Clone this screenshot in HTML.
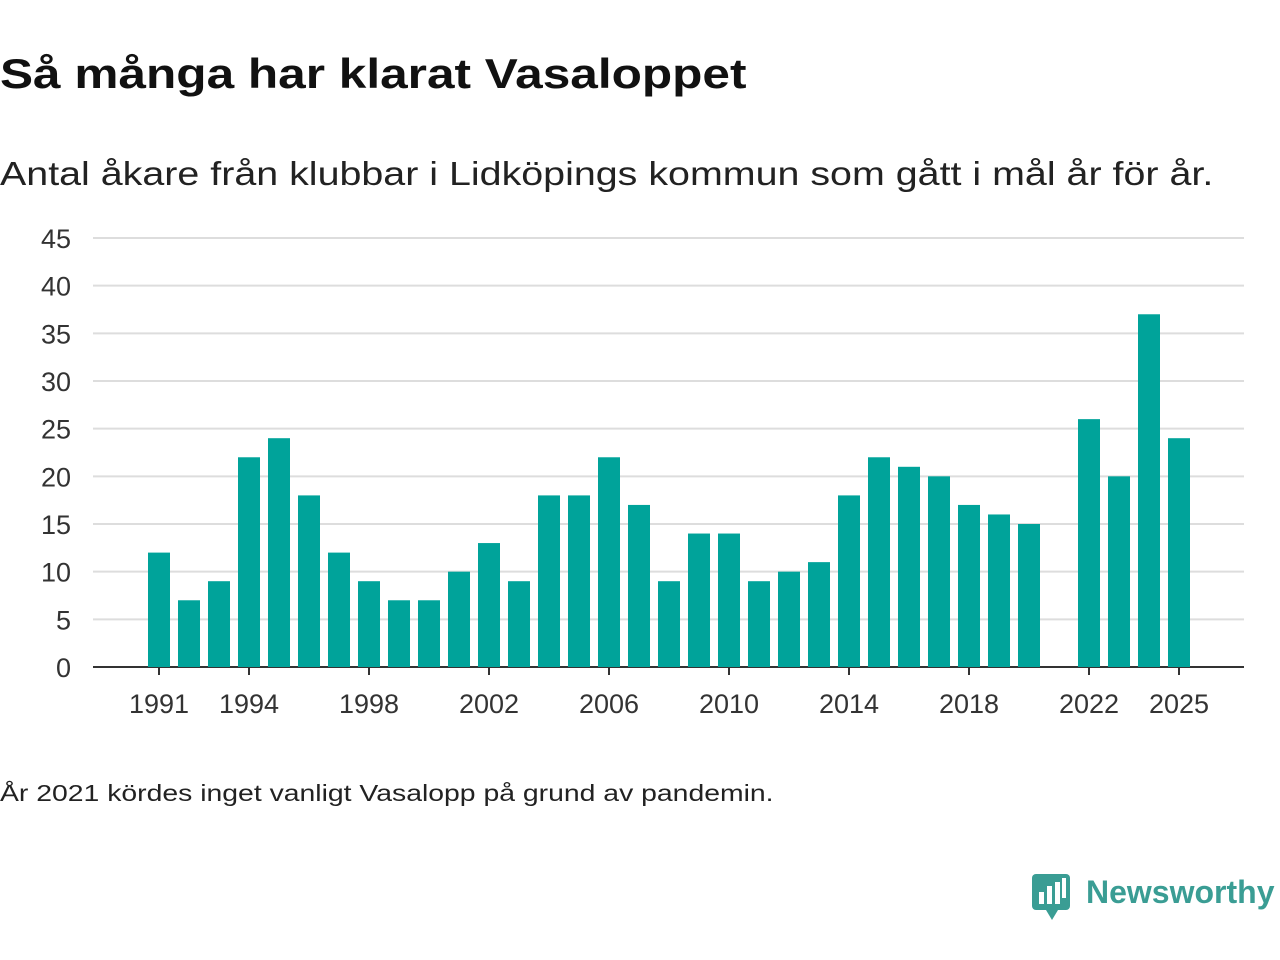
<!DOCTYPE html>
<html><head><meta charset="utf-8"><style>
body{margin:0;background:#fff;width:1280px;height:960px;overflow:hidden;font-family:"Liberation Sans","DejaVu Sans",sans-serif;color:#222}
#title{position:absolute;left:0;top:50px;font-size:42px;font-weight:bold;margin:0;color:#111;transform:scaleX(1.18);transform-origin:left top;white-space:nowrap}
#sub{position:absolute;left:0;top:155px;font-size:33px;color:#222;transform:scaleX(1.194);transform-origin:left top;white-space:nowrap}
#note{position:absolute;left:0;top:780px;font-size:23px;color:#222;transform:scaleX(1.233);transform-origin:left top;white-space:nowrap}
#logo{position:absolute;left:1032px;top:870px}
svg text{font-family:"Liberation Sans","DejaVu Sans",sans-serif}
</style></head><body>
<h1 id="title">Så många har klarat Vasaloppet</h1>
<div id="sub">Antal åkare från klubbar i Lidköpings kommun som gått i mål år för år.</div>
<svg id="chart" width="1280" height="960" style="position:absolute;left:0;top:0"></svg>
<div id="note">År 2021 kördes inget vanligt Vasalopp på grund av pandemin.</div>
<div id="logo">
<svg width="245" height="52"><rect x="0" y="4" width="38" height="36" rx="4" fill="#3a9d94"/><polygon points="14,40 26,40 20,50" fill="#3a9d94"/>
<rect x="7" y="22" width="5" height="12" fill="#fff"/><rect x="15" y="16" width="5" height="18" fill="#fff"/><rect x="23" y="12" width="5" height="22" fill="#fff"/><rect x="30" y="8" width="4" height="20" fill="#fff"/>
<text x="54" y="33" font-size="32" font-weight="bold" fill="#3a9d94">Newsworthy</text></svg></div>
<script>
const years=[1991,1992,1993,1994,1995,1996,1997,1998,1999,2000,2001,2002,2003,2004,2005,2006,2007,2008,2009,2010,2011,2012,2013,2014,2015,2016,2017,2018,2019,2020,2021,2022,2023,2024,2025];
const values=[12,7,9,22,24,18,12,9,7,7,10,13,9,18,18,22,17,9,14,14,9,10,11,18,22,21,20,17,16,15,null,26,20,37,24];
const yTicks=[0,5,10,15,20,25,30,35,40,45];
const xTickLabels=[1991,1994,1998,2002,2006,2010,2014,2018,2022,2025];
const svg=document.getElementById('chart');const NS='http://www.w3.org/2000/svg';
const x=yr=>159+(yr-1991)*30;const y=v=>667-v*(429/45);
function mk(t,a){const e=document.createElementNS(NS,t);for(const k in a)e.setAttribute(k,a[k]);svg.appendChild(e);return e;}
yTicks.forEach(v=>{
 const l=mk('line',{x1:93,x2:1244,y1:y(v),y2:y(v),stroke:v===0?'#333':'#ddd','stroke-width':2});
 
 
 const t=mk('text',{x:71,y:y(v)+10,'text-anchor':'end','font-size':27,fill:'#333'});t.textContent=v;
 
 
});
years.forEach((yr,i)=>{const v=values[i];if(v==null)return;
 const r=mk('rect',{x:x(yr)-11,y:y(v),width:22,height:y(0)-y(v),fill:'#00a39a'});
 
 
});
xTickLabels.forEach(yr=>{
 const tk=mk('line',{x1:x(yr),x2:x(yr),y1:667,y2:675,stroke:'#333','stroke-width':2});
 
 
 const t=mk('text',{x:x(yr),y:713,'text-anchor':'middle','font-size':27,fill:'#333'});t.textContent=yr;
 
 
});
</script>
</body></html>
